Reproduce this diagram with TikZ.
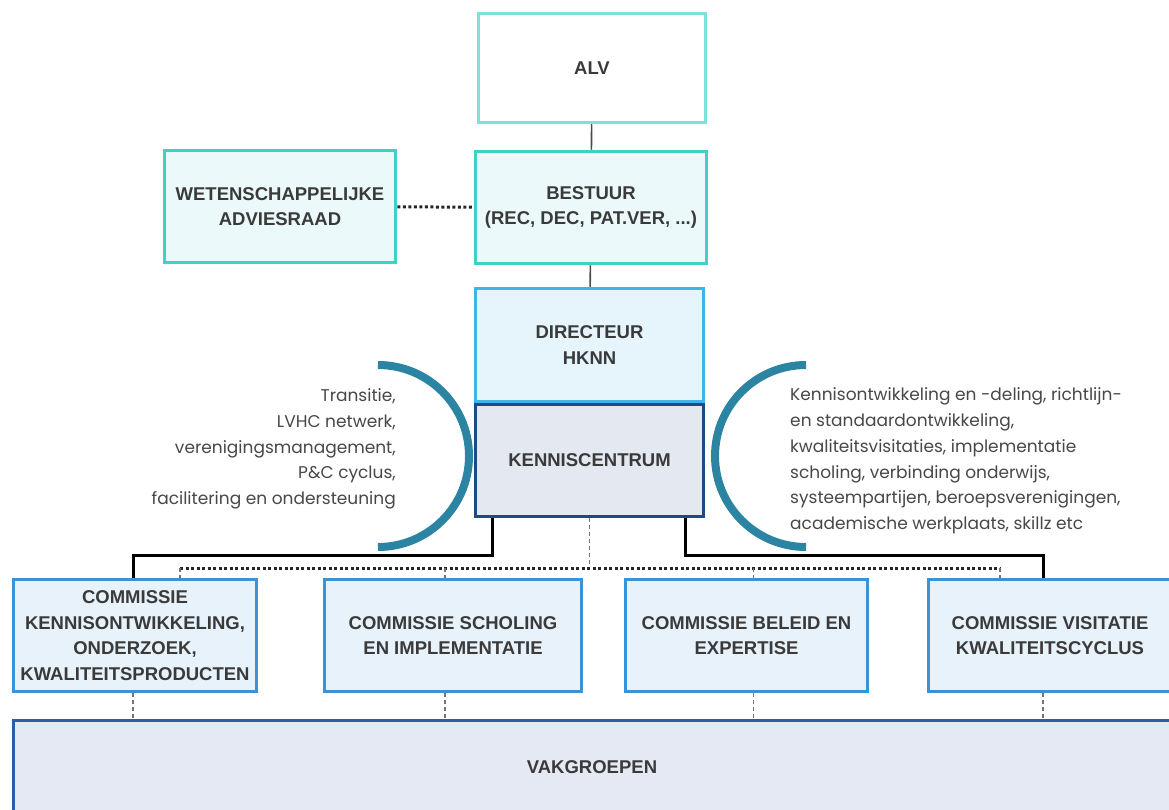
\documentclass[tikz,border=0pt]{standalone}
\usepackage{fontspec}
\setmainfont{Liberation Sans}
\newfontfamily\notefont{Poppins}
\usepackage{tikz}
\definecolor{alvline}{HTML}{80E0DA}
\definecolor{tealline}{HTML}{3FD0C8}
\definecolor{tealfill}{HTML}{ECF9FA}
\definecolor{dirline}{HTML}{3DB6E6}
\definecolor{dirfill}{HTML}{E6F5FC}
\definecolor{kcline}{HTML}{1C4C86}
\definecolor{kcfill}{HTML}{E3E8F1}
\definecolor{comline}{HTML}{3A93D6}
\definecolor{comfill}{HTML}{E8F2FB}
\definecolor{vakline}{HTML}{2C5DAA}
\definecolor{vakfill}{HTML}{E4E9F3}
\definecolor{arccol}{HTML}{2B85A2}
\definecolor{headtext}{HTML}{3A3A3A}
\definecolor{notetext}{HTML}{474747}
\tikzset{
  orgbox/.style={draw, line width=3.5pt, inner sep=0pt, align=center, text=headtext,
    font=\bfseries\fontsize{18.5}{25.5}\selectfont},
  alvbox/.style={orgbox, draw=alvline, fill=white},
  tealbox/.style={orgbox, draw=tealline, fill=tealfill},
  dirbox/.style={orgbox, draw=dirline, fill=dirfill},
  kcbox/.style={orgbox, draw=kcline, fill=kcfill},
  combox/.style={orgbox, draw=comline, fill=comfill, minimum height=112},
  vakbox/.style={orgbox, draw=vakline, fill=vakfill},
  note/.style={inner sep=0pt, text=notetext, font=\notefont\fontsize{17}{25.8}\selectfont},
  link/.style={draw=black!70, line width=1.6pt},
  stem/.style={draw=black, line width=3pt},
  dotlink/.style={draw=black!85, line width=3pt, dash pattern=on 3pt off 2.5pt},
  tick/.style={draw=black!55, line width=1.2pt, dash pattern=on 4pt off 3pt},
  arcline/.style={draw=arccol, line width=8pt}
}

\begin{document}
\begin{tikzpicture}[x=1pt, y=-1pt]
    \useasboundingbox (0,0) rectangle (1169,810);
    \clip (0,0) rectangle (1169,810);
    % top
    \node[alvbox, minimum width=227, minimum height=109] (alv) at (592,68) {ALV};
    \node[tealbox, minimum width=231, minimum height=112] (bestuur) at (591,207.5) {BESTUUR\\(REC, DEC, PAT.VER, ...)};
    \node[tealbox, minimum width=231, minimum height=112] (wetraad) at (280,206.5) {WETENSCHAPPELIJKE\\ADVIESRAAD};
    % middle
    \node[dirbox, minimum width=228, minimum height=113] (directeur) at (589.5,345) {DIRECTEUR\\HKNN};
    \node[kcbox, minimum width=228, minimum height=112] (kennis) at (589.5,460.5) {KENNISCENTRUM};
    % commissies
    \node[combox, minimum width=243] (com1) at (135,635.5) {COMMISSIE\\KENNISONTWIKKELING,\\ONDERZOEK,\\KWALITEITSPRODUCTEN};
    \node[combox, minimum width=257] (com2) at (453,635.5) {COMMISSIE SCHOLING\\EN IMPLEMENTATIE};
    \node[combox, minimum width=242] (com3) at (746.5,635.5) {COMMISSIE BELEID EN\\EXPERTISE};
    \node[combox, minimum width=243] (com4) at (1050,635.5) {COMMISSIE VISITATIE\\KWALITEITSCYCLUS};
    % vakgroepen
    \node[vakbox, minimum width=1157, minimum height=93] (vak) at (592,767) {VAKGROEPEN};
    % side notes
    \node[note, anchor=east, align=right] (leftnote) at (396,449) {Transitie,\\LVHC netwerk,\\verenigingsmanagement,\\P\&C cyclus,\\facilitering en ondersteuning};
    \node[note, anchor=west, align=left] (rightnote) at (790,461) {Kennisontwikkeling en -deling, richtlijn-\\en standaardontwikkeling,\\kwaliteitsvisitaties, implementatie\\scholing, verbinding onderwijs,\\systeempartijen, beroepsverenigingen,\\academische werkplaats, skillz etc};
    \draw[arcline] (378,365) arc[start angle=90, end angle=-90, radius=91pt];
    \draw[arcline] (806,365) arc[start angle=90, end angle=270, radius=91pt];
    % links
    \draw[link] (alv) -- (bestuur);
    \draw[link] (bestuur) -- (directeur);
    \draw[dotlink] (wetraad) -- (bestuur);
    \draw[stem] ([xshift=19pt]kennis.south west) -- ++(0,37) -| ([xshift=-2pt]com1.north);
    \draw[stem] ([xshift=-20pt]kennis.south east) -- ++(0,37) -| ([xshift=-7pt]com4.north);
    \coordinate (barL) at (180,568);
    \coordinate (barR) at (1000,568);
    \draw[tick] (kennis.south) -- (kennis.south |- barL);
    \draw[dotlink] (barL) -- (barR);
    \draw[tick] (barL) -- (barL |- com1.north);
    \draw[tick] (barR) -- (barR |- com4.north);
    \draw[tick] ([xshift=-8pt]com2.north |- barL) -- ([xshift=-8pt]com2.north);
    \draw[tick] ([xshift=7pt]com3.north |- barL) -- ([xshift=7pt]com3.north);
    \foreach \c/\dx in {com1/-2, com2/-8, com3/7, com4/-7}
        \draw[tick] ([xshift=\dx pt]\c.south) -- ([xshift=\dx pt]\c.south |- vak.north);
\end{tikzpicture}
\end{document}
